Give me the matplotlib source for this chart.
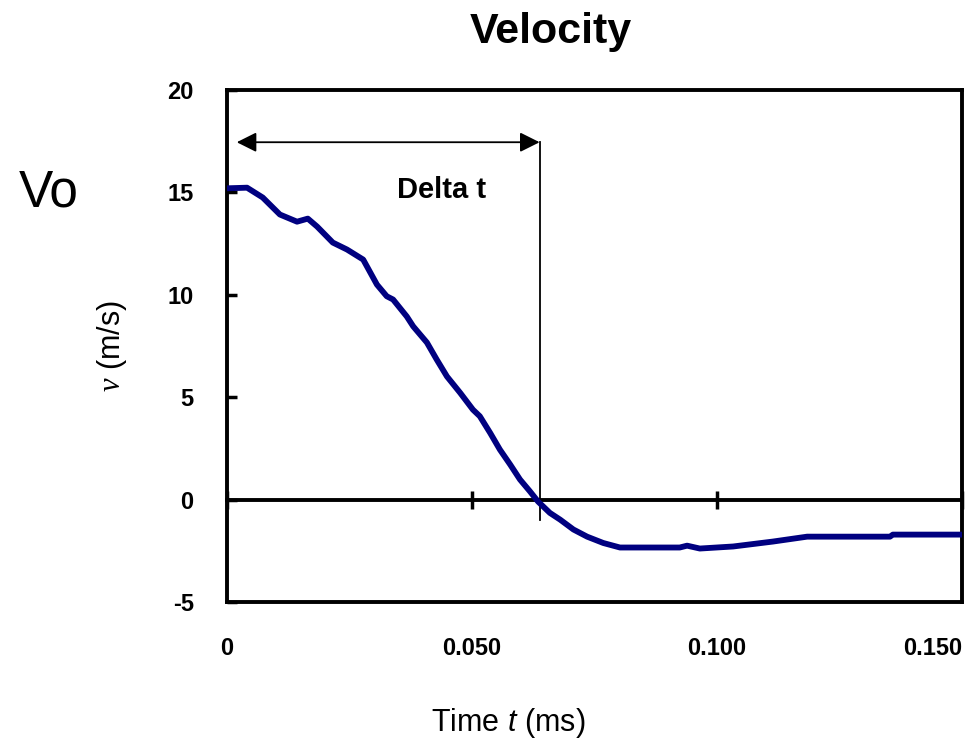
import numpy as np
import matplotlib
matplotlib.use("Agg")
import matplotlib.pyplot as plt

plt.rcParams["font.family"] = ["Liberation Sans", "DejaVu Sans"]
plt.rcParams["mathtext.fontset"] = "custom"
plt.rcParams["mathtext.rm"] = "Liberation Sans"
plt.rcParams["mathtext.it"] = "Liberation Sans:italic"
plt.rcParams["mathtext.cal"] = "Liberation Serif:italic"

# velocity trace (time in ms, velocity in m/s)
time_ms = [0.0, 0.0041, 0.0073, 0.0108, 0.0143, 0.0165, 0.0184, 0.0216, 0.0245,
           0.0278, 0.0306, 0.0326, 0.0339, 0.0367, 0.0380, 0.0408, 0.0428, 0.0449,
           0.0476, 0.0502, 0.0516, 0.0537, 0.0557, 0.0578, 0.0598, 0.0618, 0.0635,
           0.0659, 0.0680, 0.0707, 0.0735, 0.0768, 0.0802, 0.0924, 0.0939, 0.0965,
           0.1033, 0.1114, 0.1184, 0.1353, 0.1359, 0.1500]
velocity = [15.2, 15.23, 14.75, 13.92, 13.57, 13.72, 13.33, 12.55, 12.21,
            11.72, 10.50, 9.93, 9.77, 8.94, 8.46, 7.67, 6.84, 6.01,
            5.21, 4.39, 4.07, 3.26, 2.44, 1.71, 0.98, 0.41, -0.10,
            -0.65, -0.98, -1.46, -1.81, -2.12, -2.34, -2.34, -2.25, -2.39,
            -2.29, -2.05, -1.81, -1.81, -1.71, -1.71]

x_ticks = [0.0, 0.05, 0.10, 0.15]
x_labels = ["0", "0.050", "0.100", "0.150"]
y_ticks = [-5, 0, 5, 10, 15, 20]

# delta t marker
dt_start, dt_end = 0.002, 0.0638
arrow_v = 17.45
line_bottom = -1.0

fig = plt.figure(figsize=(9.72, 7.42), dpi=100)
ax = fig.add_axes([0.2335, 0.1887, 0.7562, 0.690])

ax.plot(time_ms, velocity, color="#000080", linewidth=4.2,
        solid_joinstyle="round", zorder=3)

ax.set_xlim(0, 0.15)
ax.set_ylim(-5, 20)

for s in ax.spines.values():
    s.set_linewidth(2.8)

ax.set_xticks(x_ticks)
ax.set_xticklabels(x_labels, fontsize=17, fontweight="bold")
ax.xaxis.get_majorticklabels()[-1].set_horizontalalignment("right")
ax.tick_params(axis="x", length=0, pad=25)
ax.set_yticks(y_ticks)
ax.set_yticklabels([str(v) for v in y_ticks], fontsize=17, fontweight="bold")
ax.tick_params(axis="y", direction="in", length=7, width=2.5, pad=24)

# zero line carrying the crossing ticks
zero_ax = ax.secondary_xaxis(0.2)
zero_ax.spines["bottom"].set_linewidth(2.8)
zero_ax.set_xticks(x_ticks)
zero_ax.tick_params(direction="inout", length=13, width=2.5, labelbottom=False)

# delta t arrow and vertical line
ax.annotate("", xy=(dt_start, arrow_v), xytext=(dt_end, arrow_v),
            arrowprops=dict(arrowstyle="<|-|>", color="black", lw=1.3,
                            mutation_scale=30, shrinkA=0, shrinkB=0))
ax.plot([dt_end, dt_end], [line_bottom, arrow_v], color="black", linewidth=1.3)
ax.text(0.0437, 15.1, "Delta t", fontsize=21, fontweight="bold",
        ha="center", va="center")

ax.set_xlabel("Time $t$ (ms)", fontsize=22)
ax.xaxis.set_label_coords(0.382, -0.204)
ax.set_ylabel(r"$\mathcal{v}$ (m/s)", fontsize=22)
ax.yaxis.set_label_coords(-0.133, 0.5)

fig.text(0.567, 0.957, "Velocity", fontsize=31, fontweight="bold",
         ha="center", va="center")
fig.text(0.05, 0.74, "Vo", fontsize=37, ha="center", va="center")

fig.savefig("out.png", dpi=100)
